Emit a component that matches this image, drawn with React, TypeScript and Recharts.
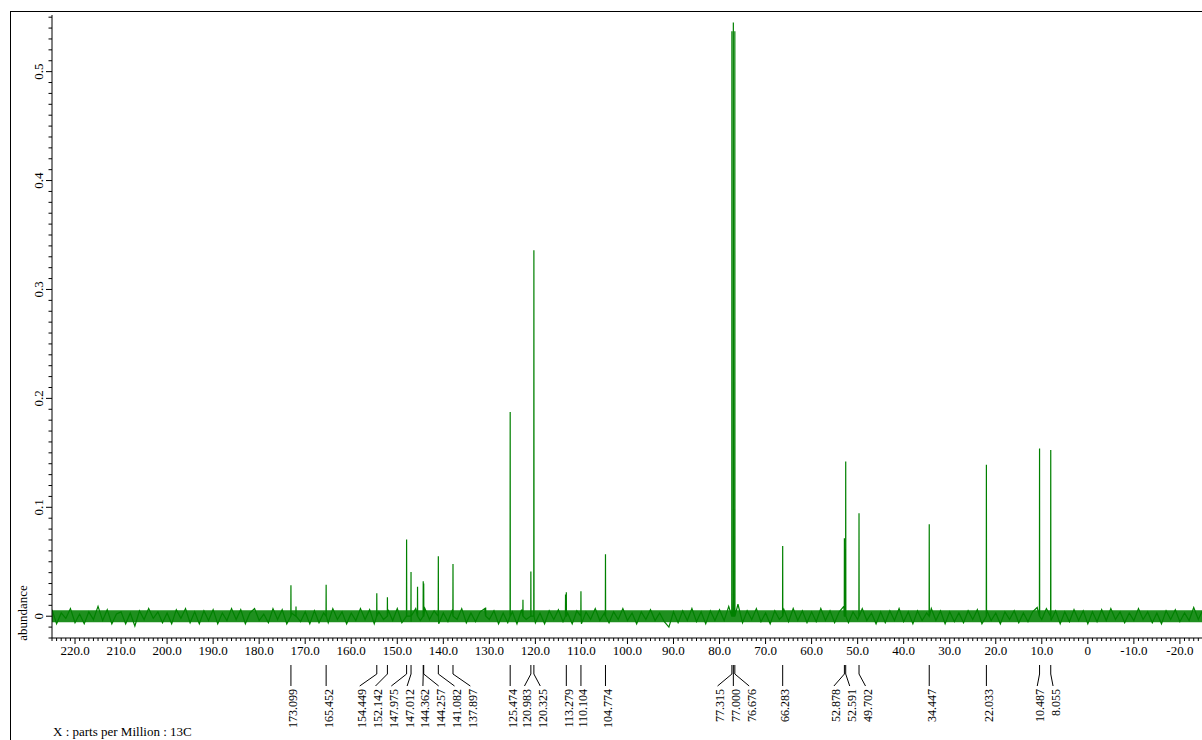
import React from 'react';
import { LineChart, Line, XAxis, YAxis, ReferenceArea } from 'recharts';

const SERIF = '"Liberation Serif", "Times New Roman", serif';
const GREEN = '#008000';

const X_MIN = -24.8;
const X_MAX = 225;
const Y_MIN = -0.02;
const Y_MAX = 0.552;
const PLOT_W = 1150;

// labelled peaks (ppm) as printed under the spectrum
const peakLabels = [
  '173.099', '165.452', '154.449', '152.142', '147.975', '147.012', '144.362',
  '144.257', '141.082', '137.897', '125.474', '120.983', '120.325', '113.279',
  '110.104', '104.774', '77.315', '77.000', '76.676', '66.283', '52.878',
  '52.591', '49.702', '34.447', '22.033', '10.487', '8.055',
];
const peakShifts = peakLabels.map(Number);
const peakHeights = [
  0.0285, 0.029, 0.021, 0.0175, 0.0705, 0.0405, 0.032,
  0.030, 0.055, 0.048, 0.1875, 0.041, 0.336, 0.022,
  0.023, 0.057, 0.537, 0.545, 0.537, 0.0645, 0.0715,
  0.142, 0.0945, 0.0845, 0.139, 0.154, 0.1525,
];

// small peaks that carry no label
const extraShifts = [172.0, 145.6, 130.8, 122.7, 113.45];
const extraHeights = [0.009, 0.027, 0.008, 0.015, 0.02];

// baseline noise, one sample per ppm from 225 down to -25
const noiseStart = 225;
const baselineNoise = [
  .006, -.007, .003, -.002, .007, -.006, .002, -.007, .004, -.003,
  .009, -.004, .006, -.007, .002, .004, -.007, .003, -.009, .005,
  -.003, .007, -.002, .004, -.006, .003, -.007, .006, -.002, .007,
  -.006, .004, -.007, .005, -.004, .006, -.007, .003, -.004, .007,
  -.003, .006, -.007, .003, .007, -.004, .002, -.006, .007, -.003,
  .006, -.007, .003, .007, -.005, .004, -.007, .005, -.006, .003,
  -.006, .007, -.003, .004, -.007, .003, -.004, .007, -.003, .006,
  -.007, .004, -.003, .006, -.004, .007, -.006, .004, -.005, .007,
  -.004, .007, -.003, .005, -.007, .003, -.005, .006, -.003, .007,
  -.006, .003, -.005, .004, .007, -.003, .005, -.007, .003, -.006,
  .004, -.007, .006, -.003, .004, -.006, .003, -.007, .005, -.003,
  .006, -.005, .003, -.007, .005, -.007, .004, -.003, .007, -.004,
  .003, -.006, .004, -.003, .007, -.004, .003, -.007, .004, -.003,
  .006, -.004, .003, -.005, -.010, .004, -.006, .005, -.004, .007,
  -.005, .004, -.007, .005, -.004, .006, -.004, .009, .015, .011,
  -.006, .005, -.003, .007, -.005, .003, -.007, .005, -.003, .006,
  -.005, .007, -.004, .005, -.006, .004, -.005, .007, -.004, .005,
  -.006, .004, .009, -.006, .004, -.003, .007, -.004, .003, -.007,
  .004, -.006, .005, -.004, .007, -.005, .004, -.007, .005, -.004,
  .003, .007, -.004, .005, -.007, .004, -.005, .003, -.006, .005,
  -.003, .006, -.007, .006, -.004, .003, -.007, .004, -.003, .005,
  -.006, .003, -.005, .004, .008, -.003, .007, -.004, .005, -.007,
  .004, -.005, .006, -.004, .005, -.007, .004, -.005, .006, -.004,
  .007, -.003, .004, -.006, .003, -.004, .007, -.003, .004, -.006,
  .003, -.007, .005, -.003, .006, -.005, .003, -.004, .008, -.003,
  .006,
];

const xTickValues = [220, 210, 200, 190, 180, 170, 160, 150, 140, 130, 120, 110, 100, 90, 80, 70, 60, 50, 40, 30, 20, 10, 0, -10, -20];
const xTickLabels = [
  '220.0', '210.0', '200.0', '190.0', '180.0', '170.0', '160.0', '150.0', '140.0',
  '130.0', '120.0', '110.0', '100.0', '90.0', '80.0', '70.0', '60.0', '50.0',
  '40.0', '30.0', '20.0', '10.0', '0', '-10.0', '-20.0',
];
const yTickValues = [0, 0.1, 0.2, 0.3, 0.4, 0.5];
const yTickLabels = ['0', '0.1', '0.2', '0.3', '0.4', '0.5'];

// spectrum trace: noise samples plus a narrow spike per peak
const trace: { ppm: number; v: number }[] = [];
baselineNoise.forEach((v, i) => trace.push({ ppm: noiseStart - i, v }));
const addPeak = (p: number, h: number) => {
  trace.push({ ppm: p + 0.03, v: 0 }, { ppm: p, v: h }, { ppm: p - 0.03, v: 0 });
};
peakShifts.forEach((p, i) => addPeak(p, peakHeights[i]));
extraShifts.forEach((p, i) => addPeak(p, extraHeights[i]));
trace.sort((a, b) => b.ppm - a.ppm);

// minor ticks: every 1 ppm on x, every 0.01 on y
const xAllTicks: number[] = [];
for (let p = 225; p >= -24; p--) xAllTicks.push(p);
const yAllTicks: number[] = [];
for (let i = -2; i <= 55; i++) yAllTicks.push(i / 100);

// spread the peak labels so they don't overlap (in px, left to right)
const PX_PER_PPM = PLOT_W / (X_MAX - X_MIN);
const labelShift: number[] = (() => {
  const pos = peakShifts.map((p) => (X_MAX - p) * PX_PER_PPM);
  const GAP = 14;
  const STEP = 15.8;
  let groups = pos.map((_, i) => [i]);
  const place = (g: number[]) => {
    const c = g.reduce((s, i) => s + pos[i], 0) / g.length;
    return g.map((_, k) => c + (k - (g.length - 1) / 2) * STEP);
  };
  let merged = true;
  while (merged) {
    merged = false;
    for (let k = 0; k < groups.length - 1; k++) {
      const a = place(groups[k]);
      const b = place(groups[k + 1]);
      if (b[0] - a[a.length - 1] < GAP) {
        groups.splice(k, 2, groups[k].concat(groups[k + 1]));
        merged = true;
        break;
      }
    }
  }
  const out = new Array(pos.length).fill(0);
  groups.forEach((g) => {
    const at = place(g);
    g.forEach((i, k) => (out[i] = at[k] - pos[i]));
  });
  return out;
})();

function XTick(props: any) {
  const { x, y, payload } = props;
  const k = xTickValues.indexOf(payload.value);
  const major = k >= 0;
  return (
    <g>
      <line x1={x} x2={x} y1={y} y2={y + (major ? 6 : 3)} stroke="#000" strokeWidth={1} />
      {major && (
        <text x={x} y={y + 17} textAnchor="middle" fontSize={13} fontFamily={SERIF} fill="#000">
          {xTickLabels[k]}
        </text>
      )}
    </g>
  );
}

function YTick(props: any) {
  const { x, y, payload } = props;
  const k = yTickValues.findIndex((t) => Math.abs(t - payload.value) < 1e-6);
  const major = k >= 0;
  const tx = x - 13;
  return (
    <g>
      <line x1={x - (major ? 6 : 3.5)} x2={x} y1={y} y2={y} stroke="#000" strokeWidth={1} />
      {major && (
        <text
          x={tx}
          y={y}
          transform={`rotate(-90 ${tx} ${y})`}
          textAnchor="middle"
          dominantBaseline="central"
          fontSize={13}
          fontFamily={SERIF}
          fill="#000"
        >
          {yTickLabels[k]}
        </text>
      )}
    </g>
  );
}

function PeakTick(props: any) {
  const { x, y, payload } = props;
  const i = peakShifts.indexOf(payload.value);
  if (i < 0) return null;
  const lx = x + labelShift[i];
  const tx = lx + 2.5;
  const ty = y + 26;
  return (
    <g>
      <path
        d={`M${x},${y + 2} L${x},${y + 11} L${lx},${y + 23}`}
        stroke="#000"
        strokeWidth={1}
        fill="none"
      />
      <text
        x={tx}
        y={ty}
        transform={`rotate(-90 ${tx} ${ty})`}
        textAnchor="end"
        dominantBaseline="central"
        fontSize={12}
        fontFamily={SERIF}
        fill="#000"
      >
        {peakLabels[i]}
      </text>
    </g>
  );
}

export default function App() {
  return (
    <div style={{ position: 'relative', width: 1202, height: 740, overflow: 'hidden', background: '#fff' }}>
      <style>{'body{margin:0;overflow:hidden}'}</style>
      <div
        style={{
          position: 'absolute',
          left: 10,
          top: 11,
          width: 1300,
          height: 800,
          border: '1.5px solid #000',
          boxSizing: 'border-box',
        }}
      />
      <div style={{ position: 'absolute', left: 0, top: 0 }}>
        <LineChart width={1202} height={740} data={trace} margin={{ top: 15, right: 0, bottom: 0, left: 0 }}>
          <XAxis
            xAxisId="main"
            dataKey="ppm"
            type="number"
            domain={[X_MIN, X_MAX]}
            reversed
            allowDataOverflow
            ticks={xAllTicks}
            interval={0}
            tick={<XTick />}
            tickSize={0}
            tickMargin={0}
            tickLine={false}
            axisLine={{ stroke: '#000', strokeWidth: 1 }}
            height={25}
          />
          <XAxis
            xAxisId="peaks"
            dataKey="ppm"
            type="number"
            domain={[X_MIN, X_MAX]}
            reversed
            allowDataOverflow
            ticks={peakShifts}
            interval={0}
            tick={<PeakTick />}
            tickSize={0}
            tickMargin={0}
            tickLine={false}
            axisLine={false}
            height={77}
          />
          <YAxis
            type="number"
            domain={[Y_MIN, Y_MAX]}
            allowDataOverflow
            ticks={yAllTicks}
            interval={0}
            tick={<YTick />}
            tickSize={0}
            tickMargin={0}
            tickLine={false}
            axisLine={{ stroke: '#000', strokeWidth: 1 }}
            width={52}
          />
          <ReferenceArea
            xAxisId="main"
            x1={X_MIN}
            x2={X_MAX}
            y1={-0.0055}
            y2={0.0055}
            fill={GREEN}
            fillOpacity={0.88}
            stroke="none"
          />
          <Line
            xAxisId="main"
            type="linear"
            dataKey="v"
            stroke={GREEN}
            strokeWidth={1.2}
            dot={false}
            isAnimationActive={false}
          />
        </LineChart>
      </div>
      <div
        style={{
          position: 'absolute',
          left: -17,
          top: 606,
          width: 80,
          height: 14,
          lineHeight: '14px',
          fontSize: 13,
          fontFamily: SERIF,
          textAlign: 'center',
          transform: 'rotate(-90deg)',
        }}
      >
        abundance
      </div>
      <div
        style={{
          position: 'absolute',
          left: 53,
          top: 724,
          lineHeight: '16px',
          fontSize: 13,
          fontFamily: SERIF,
          whiteSpace: 'nowrap',
        }}
      >
        X : parts per Million : 13C
      </div>
    </div>
  );
}
